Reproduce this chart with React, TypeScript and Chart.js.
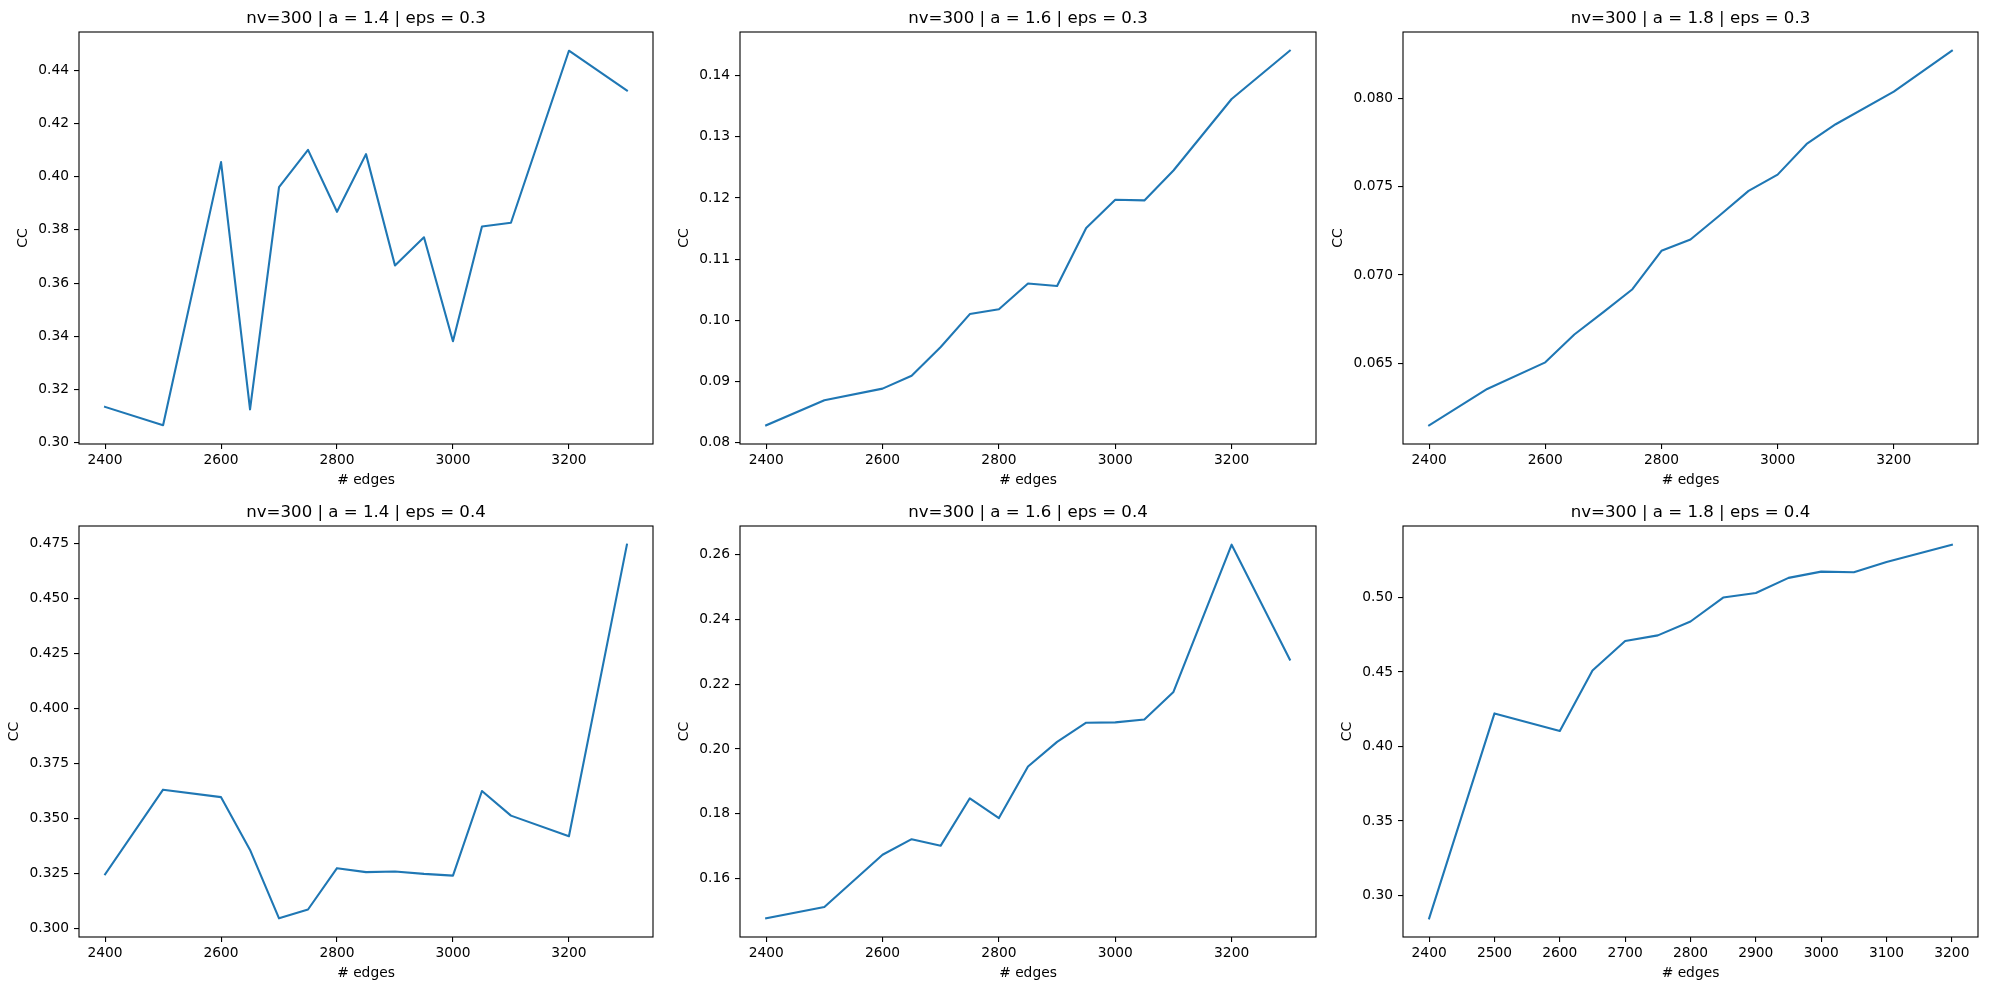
import React, { useEffect, useRef } from "react";
import { Chart, registerables } from "chart.js";
Chart.register(...registerables);

// ---------- data ----------
const edges = [2400, 2500, 2600, 2650, 2700, 2750, 2800, 2850, 2900, 2950, 3000, 3050, 3100, 3200, 3300];
const edgesA18E04 = [2400, 2500, 2600, 2650, 2700, 2750, 2800, 2850, 2900, 2950, 3000, 3050, 3100, 3200];

const ccA14E03 = [0.3134, 0.3065, 0.4055, 0.3125, 0.3961, 0.4101, 0.3868, 0.4085, 0.3666, 0.3772, 0.3381, 0.3813, 0.3827, 0.4474, 0.4324];
const ccA16E03 = [0.0828, 0.0869, 0.0888, 0.0909, 0.0956, 0.1010, 0.1018, 0.1060, 0.1056, 0.1151, 0.1197, 0.1196, 0.1245, 0.1362, 0.1441];
const ccA18E03 = [0.06147, 0.06353, 0.06504, 0.06662, 0.06789, 0.06919, 0.07137, 0.07201, 0.07337, 0.07477, 0.07569, 0.07743, 0.07855, 0.0804, 0.08272];
const ccA14E04 = [0.3245, 0.3630, 0.3596, 0.3356, 0.3045, 0.3085, 0.3273, 0.3255, 0.3258, 0.3247, 0.3239, 0.3624, 0.3512, 0.3418, 0.4744];
const ccA16E04 = [0.1478, 0.1513, 0.1674, 0.1722, 0.1702, 0.1848, 0.1787, 0.1946, 0.2022, 0.2081, 0.2082, 0.2091, 0.2176, 0.2630, 0.2276];
const ccA18E04 = [0.2846, 0.4222, 0.4104, 0.4510, 0.4708, 0.4746, 0.4839, 0.5000, 0.5031, 0.5132, 0.5174, 0.5170, 0.5239, 0.5355];

const xTicks = [2400, 2600, 2800, 3000, 3200];
const xTicksA18E04 = [2400, 2500, 2600, 2700, 2800, 2900, 3000, 3100, 3200];

const yTicksA14E03 = [0.30, 0.32, 0.34, 0.36, 0.38, 0.40, 0.42, 0.44];
const yTicksA16E03 = [0.08, 0.09, 0.10, 0.11, 0.12, 0.13, 0.14];
const yTicksA18E03 = [0.065, 0.070, 0.075, 0.080];
const yTicksA14E04 = [0.300, 0.325, 0.350, 0.375, 0.400, 0.425, 0.450, 0.475];
const yTicksA16E04 = [0.16, 0.18, 0.20, 0.22, 0.24, 0.26];
const yTicksA18E04 = [0.30, 0.35, 0.40, 0.45, 0.50];

const titles = [
  "nv=300 | a = 1.4 | eps = 0.3",
  "nv=300 | a = 1.6 | eps = 0.3",
  "nv=300 | a = 1.8 | eps = 0.3",
  "nv=300 | a = 1.4 | eps = 0.4",
  "nv=300 | a = 1.6 | eps = 0.4",
  "nv=300 | a = 1.8 | eps = 0.4",
];

const xLabel = "# edges";
const yLabel = "CC";

// ---------- layout ----------
const COL_L = [79, 740, 1403];
const COL_R = [653, 1316, 1978];
const ROW_T = [32, 526];
const ROW_B = [444, 937];
const Y_AXIS_W = 79;
const X_AXIS_H = 50;
const TITLE_H = 32;
const RIGHT_PAD = 10;
const FONT = "'DejaVu Sans', sans-serif";
const TICK_SIZE = 13.8;
const TITLE_SIZE = 16.6;
const LINE_COLOR = "#1f77b4";

type PanelDef = {
  title: string;
  xs: number[];
  ys: number[];
  xTicks: number[];
  yTicks: number[];
  yDec: number;
  row: number;
  col: number;
};

const panels: PanelDef[] = [
  { title: titles[0], xs: edges, ys: ccA14E03, xTicks, yTicks: yTicksA14E03, yDec: 2, row: 0, col: 0 },
  { title: titles[1], xs: edges, ys: ccA16E03, xTicks, yTicks: yTicksA16E03, yDec: 2, row: 0, col: 1 },
  { title: titles[2], xs: edges, ys: ccA18E03, xTicks, yTicks: yTicksA18E03, yDec: 3, row: 0, col: 2 },
  { title: titles[3], xs: edges, ys: ccA14E04, xTicks, yTicks: yTicksA14E04, yDec: 3, row: 1, col: 0 },
  { title: titles[4], xs: edges, ys: ccA16E04, xTicks, yTicks: yTicksA16E04, yDec: 2, row: 1, col: 1 },
  { title: titles[5], xs: edgesA18E04, ys: ccA18E04, xTicks: xTicksA18E04, yTicks: yTicksA18E04, yDec: 2, row: 1, col: 2 },
];

const framePlugin = {
  id: "frame",
  afterDatasetsDraw(chart: any) {
    const { ctx, chartArea } = chart;
    ctx.save();
    ctx.strokeStyle = "#000";
    ctx.lineWidth = 1.1;
    ctx.strokeRect(chartArea.left, chartArea.top, chartArea.right - chartArea.left, chartArea.bottom - chartArea.top);
    ctx.restore();
  },
};

function measure(text: string, size: number): number {
  const c = document.createElement("canvas");
  const ctx = c.getContext("2d")!;
  ctx.font = `${size}px ${FONT}`;
  return ctx.measureText(text).width;
}

function Panel({ p }: { p: PanelDef }) {
  const ref = useRef<HTMLCanvasElement | null>(null);
  const L = COL_L[p.col], R = COL_R[p.col], T = ROW_T[p.row], B = ROW_B[p.row];
  const width = R - L + Y_AXIS_W + RIGHT_PAD;
  const height = B - T + TITLE_H + X_AXIS_H;

  useEffect(() => {
    if (!ref.current) return;
    const xmin = Math.min(...p.xs), xmax = Math.max(...p.xs);
    const ymin = Math.min(...p.ys), ymax = Math.max(...p.ys);
    const xm = (xmax - xmin) * 0.05, ym = (ymax - ymin) * 0.05;
    const labels = p.yTicks.map((v) => v.toFixed(p.yDec));
    const maxW = Math.max(...labels.map((s) => measure(s, TICK_SIZE)));
    const lh = TICK_SIZE * 1.2;
    const ccCenter = Y_AXIS_W - 10 - maxW - 15;
    const yTitlePad = Math.max(0, ccCenter - lh / 2);
    const titleTop = 9.0;

    const chart = new Chart(ref.current, {
      type: "line",
      data: {
        datasets: [
          {
            data: p.xs.map((x, i) => ({ x, y: p.ys[i] })),
            borderColor: LINE_COLOR,
            backgroundColor: LINE_COLOR,
            borderWidth: 2.1,
            pointRadius: 0,
            tension: 0,
            fill: false,
            borderJoinStyle: "round",
            borderCapStyle: "square",
          },
        ],
      },
      options: {
        animation: false,
        responsive: false,
        devicePixelRatio: 1,
        events: [],
        layout: { padding: { left: 0, right: RIGHT_PAD, top: 0, bottom: 0 } },
        plugins: {
          legend: { display: false },
          tooltip: { enabled: false },
          title: {
            display: true,
            text: p.title,
            fullSize: false,
            color: "#000",
            font: { family: FONT, size: TITLE_SIZE, weight: "normal" as any },
            padding: { top: titleTop, bottom: TITLE_H - titleTop - TITLE_SIZE * 1.2 },
          },
        },
        scales: {
          x: {
            type: "linear",
            min: xmin - xm,
            max: xmax + xm,
            afterBuildTicks: (s: any) => {
              s.ticks = p.xTicks.map((v) => ({ value: v }));
            },
            afterFit: (s: any) => {
              s.height = X_AXIS_H;
            },
            ticks: {
              autoSkip: false,
              maxRotation: 0,
              color: "#000",
              padding: 3,
              font: { family: FONT, size: TICK_SIZE },
              callback: (v: any) => String(v),
            },
            grid: { drawOnChartArea: false, drawTicks: true, tickLength: 5, color: "#000", lineWidth: 1.1 },
            border: { display: false },
            title: {
              display: true,
              text: xLabel,
              color: "#000",
              font: { family: FONT, size: TICK_SIZE },
              padding: { top: 0, bottom: 5.7 },
            },
          },
          y: {
            type: "linear",
            min: ymin - ym,
            max: ymax + ym,
            afterBuildTicks: (s: any) => {
              s.ticks = p.yTicks.map((v) => ({ value: v }));
            },
            afterFit: (s: any) => {
              s.width = Y_AXIS_W;
            },
            ticks: {
              autoSkip: false,
              color: "#000",
              padding: 5,
              font: { family: FONT, size: TICK_SIZE },
              callback: (v: any) => Number(v).toFixed(p.yDec),
            },
            grid: { drawOnChartArea: false, drawTicks: true, tickLength: 5, color: "#000", lineWidth: 1.1 },
            border: { display: false },
            title: {
              display: true,
              text: yLabel,
              color: "#000",
              font: { family: FONT, size: TICK_SIZE },
              padding: { top: yTitlePad, bottom: 0 },
            },
          },
        },
      },
      plugins: [framePlugin],
    });
    return () => chart.destroy();
  }, []);

  return (
    <canvas
      ref={ref}
      width={width}
      height={height}
      style={{ position: "absolute", left: L - Y_AXIS_W, top: T - TITLE_H, width, height }}
    />
  );
}

export default function App() {
  return (
    <div style={{ position: "absolute", left: 0, top: 0, width: 1990, height: 990, background: "#fff" }}>
      {panels.map((p, i) => (
        <Panel key={i} p={p} />
      ))}
    </div>
  );
}
